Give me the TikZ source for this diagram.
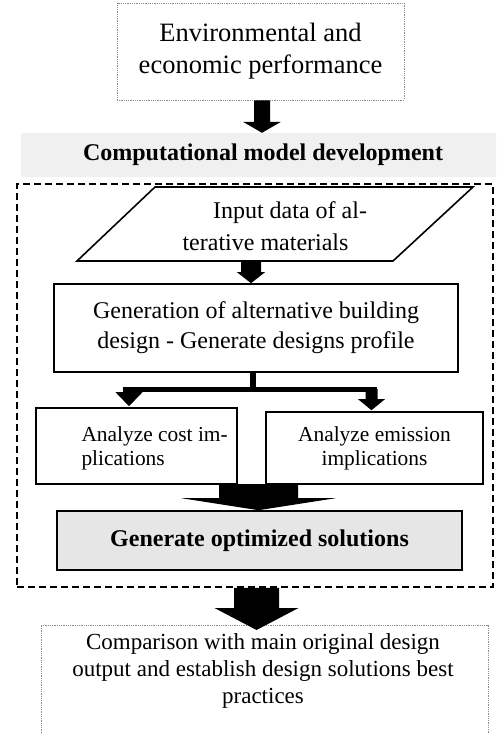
\documentclass[tikz,border=0pt]{standalone}
\usepackage{fontspec}
\setmainfont{Liberation Serif}
\usetikzlibrary{calc}

\definecolor{bandgray}{HTML}{F0F0F0}
\definecolor{boxgray}{HTML}{E6E6E6}
\definecolor{dotgray}{HTML}{8C8C8C}

% vertical block arrow: start, tip, shaft half-width, head half-width, head length
\newcommand\blockarr[5]{%
  \fill[black] ($(#1)+(-#3,0)$) -- ($(#2)+(-#3,-#5)$) -- ($(#2)+(-#4,-#5)$) -- (#2)
    -- ($(#2)+(#4,-#5)$) -- ($(#2)+(#3,-#5)$) -- ($(#1)+(#3,0)$) -- cycle;}

\begin{document}
\begin{tikzpicture}[x=1pt,y=-1pt,
  dotbox/.style={draw=dotgray, densely dotted, line width=0.8pt, inner sep=0pt},
  solidbox/.style={draw=black, line width=1.6pt, inner sep=0pt},
  dashbox/.style={draw=black, line width=1.8pt, dash pattern=on 7pt off 4pt, inner sep=0pt},
  bigtxt/.style={font=\fontsize{26.5}{32}\selectfont, align=center},
  midtxt/.style={font=\fontsize{24}{30}\selectfont, align=center},
  smalltxt/.style={font=\fontsize{21.4}{24}\selectfont},
  lowtxt/.style={font=\fontsize{23}{27}\selectfont, align=center},
  boldtxt/.style={font=\fontsize{24}{29}\selectfont\bfseries}
]
\useasboundingbox (0,0) rectangle (496,733);
\clip (0,0) rectangle (496,733);

% header box
\node[dotbox, minimum width=287pt, minimum height=97pt, bigtxt] (env) at (260.5,51.5)
  {Environmental and\\economic performance};

% section band
\node[fill=bandgray, inner sep=0pt, minimum width=484pt, minimum height=44pt] (band) at (263,155) {};
\node[boldtxt] (bandtxt) at (263,155) {Computational model development};

% dashed frame of the model
\node[dashbox, minimum width=476pt, minimum height=403pt] (model) at (255,385.5) {};

% input parallelogram
\draw[line width=1.6pt, line join=miter]
  (155,187) coordinate (inTL) -- (473,187) coordinate (inTR)
  -- (393,261) coordinate (inBR) -- (77,261) coordinate (inBL) -- cycle;
\node[midtxt] (inp1) at (290,213) {Input data of al-};
\node[midtxt] (inp2) at (265.5,242) {terative materials};
\coordinate (inB) at ($(inBL)!0.5!(inBR)$);

% generation box
\node[solidbox, minimum width=404pt, minimum height=88pt, midtxt] (gen) at (256,328)
  {Generation of alternative building\\design - Generate designs profile};

% analysis boxes
\node[solidbox, minimum width=201pt, minimum height=76pt] (cost) at (136.5,446) {};
\node[smalltxt, anchor=west, align=left] (costtxt) at (78,448.5) {Analyze cost im-\\plications};
\node[solidbox, minimum width=217pt, minimum height=72pt, smalltxt, align=center] (emis) at (374.5,448)
  {Analyze emission\\implications};

% optimisation box
\node[solidbox, fill=boxgray, minimum width=405pt, minimum height=59pt, boldtxt] (opt) at (259.5,540.5)
  {Generate optimized solutions};

% comparison box (runs past the lower edge)
\draw[dotgray, densely dotted, line width=0.8pt] (41,760) -- (41,625) coordinate (cmpTL)
  -- (488,625) coordinate (cmpTR) -- (488,760);
\node[lowtxt] (cmp) at (263,671)
  {Comparison with main original design\\output and establish design solutions best\\practices};

% arrows
\coordinate (a1s) at ($(env.south)+(1.5,0)$);
\coordinate (a1t) at (a1s |- band.north);
\blockarr{a1s}{a1t}{8}{19}{11}

\coordinate (a2s) at ($(inB)+(16,0)$);
\coordinate (a2t) at (a2s |- gen.north);
\blockarr{a2s}{a2t}{10}{14}{11}

% split towards the two analyses
\coordinate (split) at ($(gen.south)+(-3,17)$);
\coordinate (jl) at (129,389);
\coordinate (jr) at (371.5,389);
\draw[line width=6pt] ($(gen.south)+(-3,0)$) -- (split);
\draw[line width=5pt] ($(jl)+(-6,0)$) -- ($(jr)+(5.5,0)$);
\coordinate (jlt) at ($(jl |- cost.north)+(0,-1)$);
\coordinate (jrt) at ($(jr |- emis.north)+(0,-1)$);
\blockarr{jl}{jlt}{6}{13.5}{14}
\blockarr{jr}{jrt}{6}{13.5}{11}

% merge into optimisation
\coordinate (a3s) at (258.5,484);
\coordinate (a3t) at (a3s |- opt.north);
\blockarr{a3s}{a3t}{39.5}{77}{12}

% output arrow
\coordinate (a4s) at (model.south -| 256.5,0);
\coordinate (a4t) at (256.5,630);
\blockarr{a4s}{a4t}{22.5}{42}{22}
\end{tikzpicture}
\end{document}
